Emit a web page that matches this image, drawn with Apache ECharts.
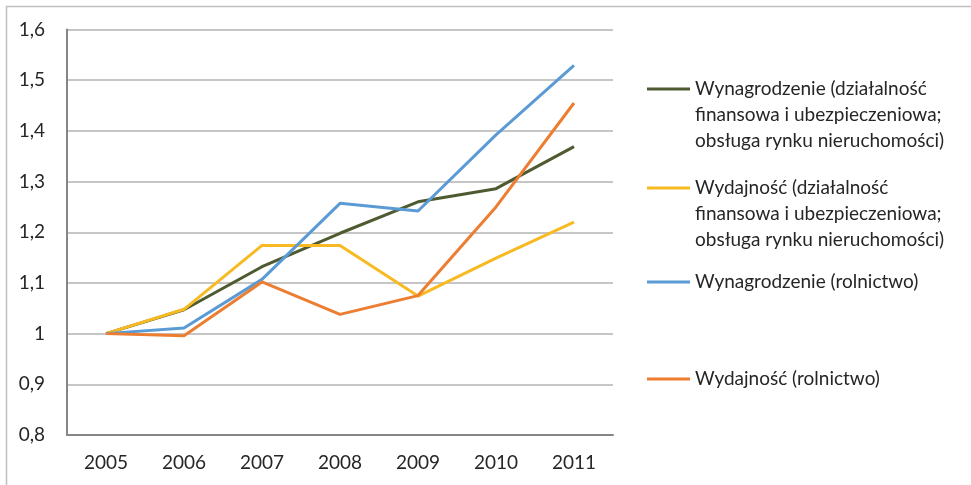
<!DOCTYPE html>
<html>
<head>
<meta charset="utf-8">
<script src="https://cdn.jsdelivr.net/npm/echarts@6/dist/echarts.min.js"></script>
<style>
  html, body { margin: 0; padding: 0; background: #fff; }
  #chart { width: 971px; height: 485px; }
</style>
</head>
<body>
<div id="chart"></div>
<script>
// Years on the category axis
const years = ['2005', '2006', '2007', '2008', '2009', '2010', '2011'];

// Index values (2005 = 1)
const wynFinanse = [1.000, 1.047, 1.132, 1.198, 1.260, 1.286, 1.369];
const wydFinanse = [1.000, 1.048, 1.174, 1.174, 1.074, 1.149, 1.220];
const wynRolnictwo = [1.000, 1.011, 1.107, 1.257, 1.242, 1.392, 1.529];
const wydRolnictwo = [1.000, 0.996, 1.102, 1.038, 1.075, 1.250, 1.455];

// Series names (line breaks as shown in the legend)
const names = [
  'Wynagrodzenie (działalność\nfinansowa i ubezpieczeniowa;\nobsługa rynku nieruchomości)',
  'Wydajność (działalność\nfinansowa i ubezpieczeniowa;\nobsługa rynku nieruchomości)',
  'Wynagrodzenie (rolnictwo)',
  'Wydajność (rolnictwo)'
];
const values = [wynFinanse, wydFinanse, wynRolnictwo, wydRolnictwo];
const colors = ['#4E5B31', '#F7BA22', '#5B9BD5', '#ED7D31'];

const FONT = 'Lato, "Open Sans", sans-serif';
const LINE_H = 26;
const ICON_W = 43;

// Legend swatch: a 3px bar level with the first text line; two tiny
// corner dots stretch the path box to the full text block height.
function swatch(h) {
  const c = LINE_H / 2;
  return 'path://M0,' + (c - 1.5) + 'H' + ICON_W + 'V' + (c + 1.5) + 'H0Z' +
         'M0,0h0.01v0.01h-0.01Z' +
         'M' + (ICON_W - 0.01) + ',' + (h - 0.01) + 'h0.01v0.01h-0.01Z';
}

// One legend block per series so each sits at its own height
const legendLineY = [89, 188, 282, 379];
const legends = names.map((n, i) => {
  const h = n.split('\n').length * LINE_H;
  return {
    data: [n],
    orient: 'vertical',
    left: 647,
    top: legendLineY[i] - LINE_H / 2,
    padding: 0,
    icon: swatch(h),
    itemWidth: ICON_W,
    itemHeight: h,
    itemGap: 0,
    selectedMode: false,
    textStyle: {
      fontFamily: FONT,
      fontSize: 19,
      color: '#262626',
      lineHeight: LINE_H
    }
  };
});

const chart = echarts.init(document.getElementById('chart'), null, { renderer: 'canvas' });
chart.setOption({
  backgroundColor: '#ffffff',
  animation: false,
  color: colors,
  graphic: [{
    type: 'rect',
    shape: { x: 6.5, y: 6.5, width: 980, height: 500 },
    style: { fill: 'none', stroke: '#BFBFBF', lineWidth: 1.5 },
    silent: true
  }],
  legend: legends,
  grid: { left: 67, right: 358, top: 29.5, bottom: 50 },
  xAxis: {
    type: 'category',
    data: years,
    boundaryGap: true,
    axisLine: { lineStyle: { color: '#868686', width: 2 } },
    axisTick: { show: false },
    axisLabel: { color: '#262626', fontFamily: FONT, fontSize: 19, margin: 18 }
  },
  yAxis: {
    type: 'value',
    min: 0.8,
    max: 1.6,
    interval: 0.1,
    axisLine: { show: true, lineStyle: { color: '#868686', width: 2 } },
    axisTick: { show: false },
    splitLine: { lineStyle: { color: '#B3B3B3', width: 1.5 } },
    axisLabel: {
      color: '#262626', fontFamily: FONT, fontSize: 19, margin: 22,
      formatter: v => {
        const r = Math.round(v * 10) / 10;
        return r === 1 ? '1' : r.toFixed(1).replace('.', ',');
      }
    }
  },
  series: names.map((n, i) => ({
    name: n,
    type: 'line',
    data: values[i],
    symbol: 'none',
    lineStyle: { width: 3, color: colors[i] },
    itemStyle: { color: colors[i] }
  }))
});
</script>
</body>
</html>
